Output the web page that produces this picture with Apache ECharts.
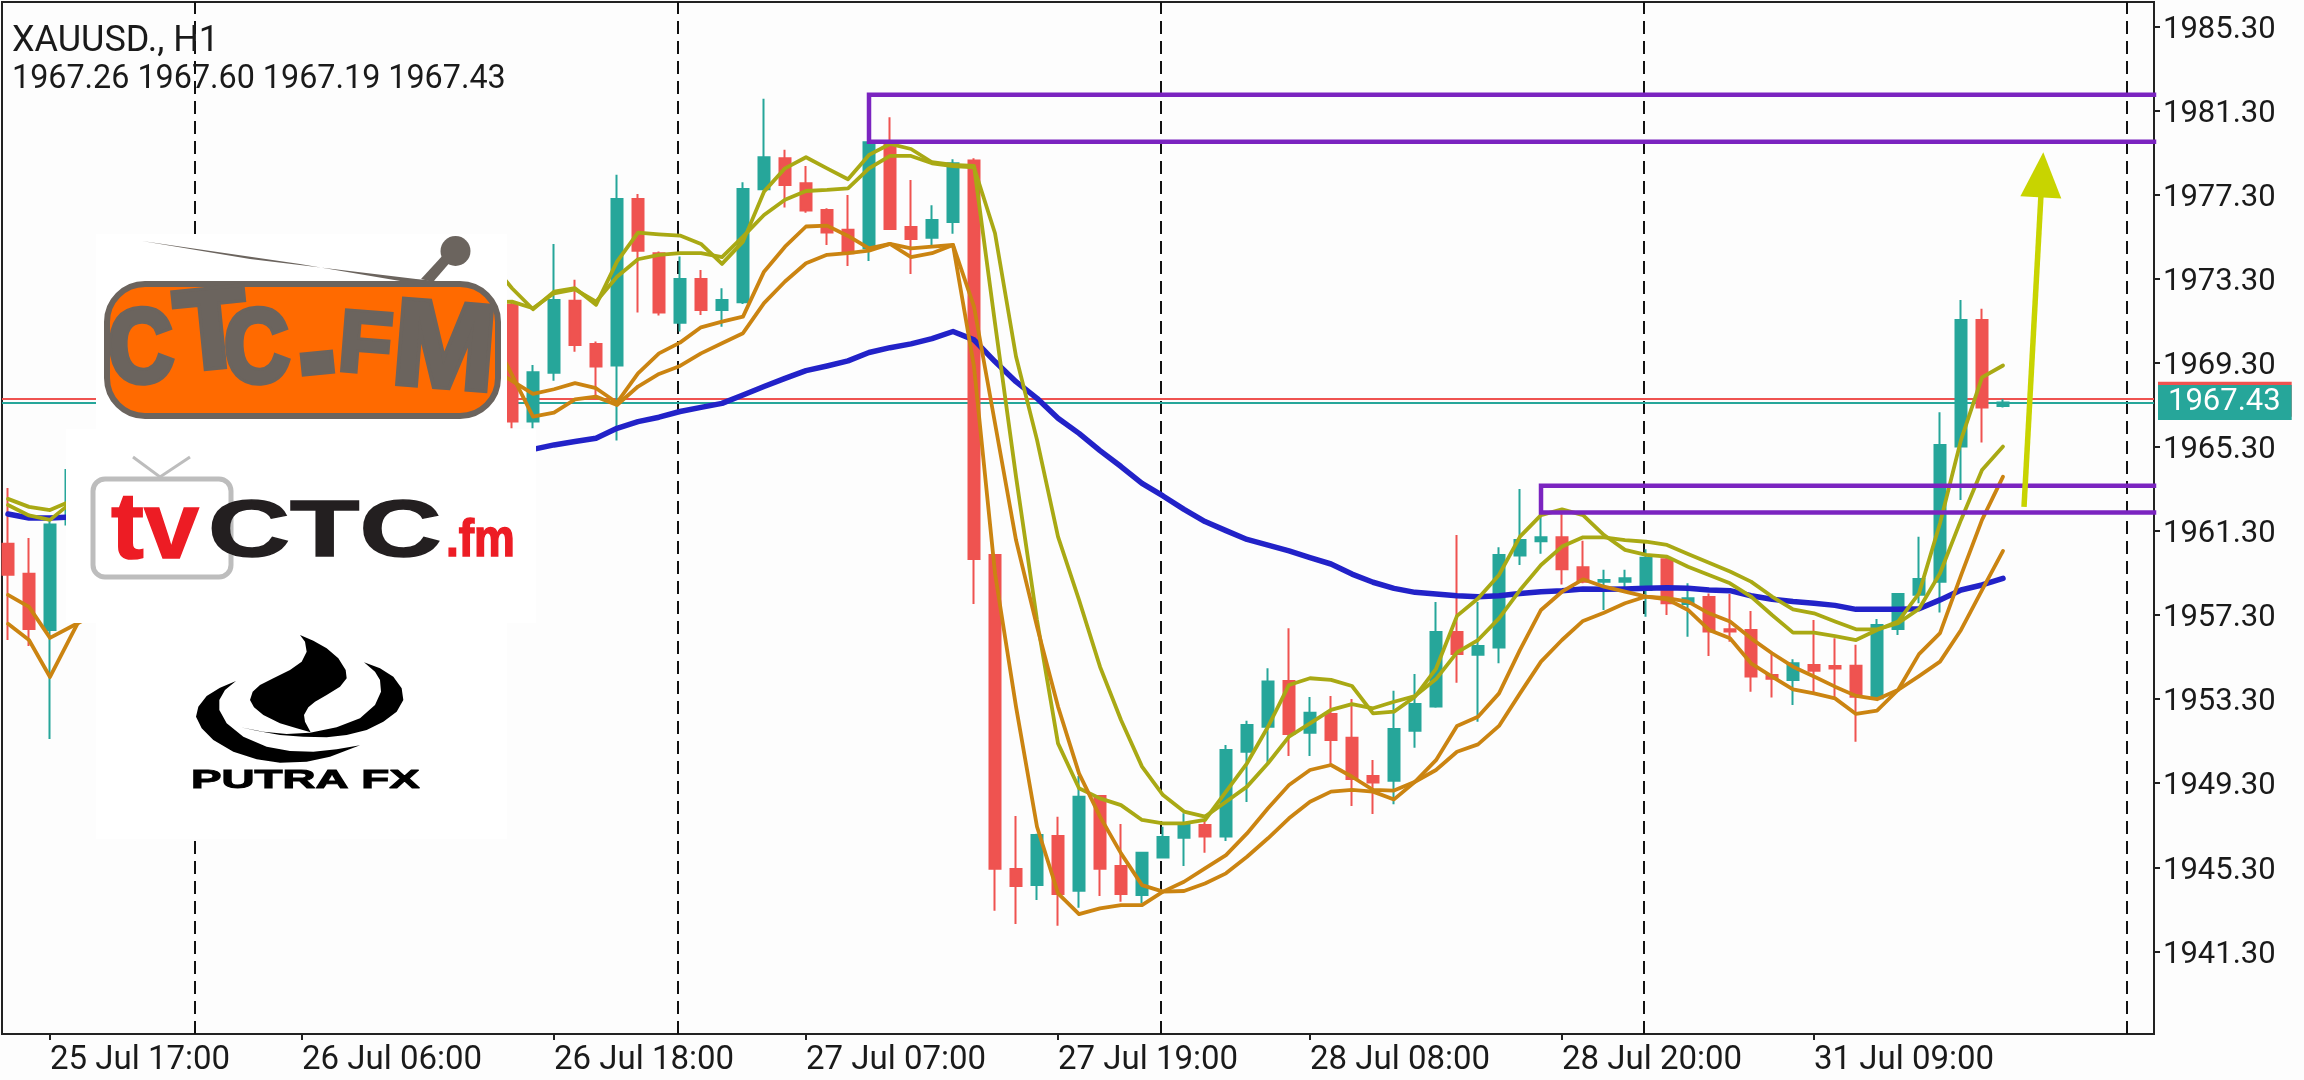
<!DOCTYPE html>
<html>
<head>
<meta charset="utf-8">
<style>html,body{margin:0;padding:0;background:#fdfdfd}#c{width:2304px;height:1080px}</style>
<script src="https://cdn.jsdelivr.net/npm/echarts@6/dist/echarts.min.js"></script>
</head>
<body>
<div id="c"></div>
<script>
// Candles as [open, close, low, high]. Bars 4..23 sit behind the logos and are not readable.
const leftCandles = [
 [1960.70,1959.23,1956.12,1963.36],[1959.27,1956.65,1955.84,1960.98],[1956.60,1961.62,1951.41,1961.80],[1961.62,1964.22,1961.60,1964.30]];
const rightCandles = [
 [1972.08,1966.52,1966.20,1972.20],[1966.52,1968.87,1966.20,1969.22],[1968.85,1972.31,1968.47,1974.98],[1972.27,1970.17,1969.85,1973.27],
 [1970.22,1969.14,1967.71,1970.33],[1969.19,1977.12,1965.62,1978.27],[1977.12,1974.66,1971.71,1977.36],[1974.54,1971.71,1971.57,1974.62],
 [1971.23,1973.31,1970.81,1974.38],[1973.31,1971.84,1971.60,1973.74],[1971.84,1972.31,1971.04,1972.87],[1972.20,1977.60,1972.12,1977.92],
 [1977.58,1979.11,1977.55,1981.89],[1979.06,1977.79,1976.71,1979.46],[1977.87,1976.57,1976.47,1978.69],[1976.60,1975.52,1974.93,1976.68],
 [1975.65,1974.54,1973.93,1977.31],[1974.77,1979.82,1974.17,1979.85],[1979.74,1975.69,1975.64,1981.01],[1975.79,1975.22,1973.55,1978.03],
 [1975.28,1976.12,1974.93,1976.82],[1976.03,1978.82,1975.46,1979.01],[1978.95,1959.98,1957.84,1979.06],[1960.17,1945.23,1943.23,1960.20],
 [1945.22,1944.41,1942.60,1947.74],[1944.45,1946.84,1943.74,1946.90],[1946.79,1944.03,1942.52,1947.71],[1944.18,1948.66,1943.37,1949.64],
 [1948.69,1945.23,1943.93,1948.74],[1945.36,1944.03,1943.66,1947.36],[1943.98,1945.99,1943.58,1946.04],[1945.76,1946.74,1945.72,1947.23],
 [1946.71,1947.31,1945.36,1947.87],[1947.31,1946.76,1945.99,1947.55],[1946.76,1950.88,1946.55,1951.12],[1950.80,1952.07,1948.41,1952.28],
 [1951.99,1954.14,1950.25,1954.77],[1954.17,1951.64,1950.60,1956.68],[1951.71,1952.66,1950.60,1953.41],[1952.60,1951.36,1950.17,1953.45],
 [1951.47,1949.50,1948.22,1953.31],[1949.64,1949.33,1947.84,1950.41],[1949.42,1951.88,1948.30,1953.71],[1951.80,1953.07,1950.99,1954.50],
 [1952.95,1956.50,1952.90,1957.93],[1956.50,1955.45,1954.09,1961.12],[1955.42,1955.84,1952.23,1957.93],[1955.76,1960.17,1955.01,1960.54],
 [1960.14,1960.88,1959.69,1963.31],[1960.82,1961.01,1960.23,1962.15],[1961.01,1959.49,1958.76,1962.34],[1959.58,1958.90,1958.82,1960.85],
 [1958.90,1958.98,1957.55,1959.46],[1958.90,1959.06,1958.50,1959.46],[1958.50,1960.04,1957.23,1960.44],[1959.96,1957.87,1957.31,1960.09],
 [1957.84,1958.11,1956.28,1958.82],[1958.17,1956.52,1955.36,1958.34],[1956.63,1956.52,1956.04,1958.31],[1956.60,1954.38,1953.66,1957.50],
 [1954.46,1954.28,1953.38,1955.49],[1954.22,1955.01,1953.03,1955.20],[1954.93,1954.66,1953.58,1957.07],[1954.88,1954.76,1953.34,1956.20],
 [1954.89,1953.42,1951.28,1955.89],[1953.35,1956.84,1953.30,1957.12],[1956.65,1958.31,1956.36,1958.35],[1958.27,1959.03,1957.87,1961.04],
 [1958.90,1965.41,1957.43,1966.96],[1965.33,1971.36,1962.79,1972.31],[1971.36,1967.19,1965.52,1971.89],[1967.26,1967.43,1967.19,1967.60]];
const rightCandlesStart = 24;

// Moving averages. Left part starts at bar 0, right part at the given bar.
const oliveFastLeft = [1962.84,1962.46,1962.31,1962.74];
const oliveFast = [1974.08,1972.87,1971.87,1972.71,1972.87,1972.08,1974.14,1975.52,1975.44,1975.38,1974.98,1974.03,1975.09,1977.47,1978.58,1979.11,1978.58,1978.06,1979.22,1979.74,1979.50,1978.87,1978.74,1978.69,1971.20,1963.90,1957.07,1951.20,1949.06,1948.58,1948.26,1947.55,1947.39,1947.39,1947.55,1948.90,1950.25,1951.99,1953.98,1954.30,1954.22,1953.93,1952.63,1952.71,1953.42,1954.75,1957.27,1958.10,1959.22,1961.04,1962.07,1962.34,1962.07,1961.12,1960.41,1960.17,1960.09,1959.61,1959.22,1958.82,1958.19,1957.31,1956.47,1956.47,1956.31,1956.12,1956.60,1957.00,1958.34,1961.68,1965.65,1968.63,1969.19];
const oliveSlowLeft = [1962.55,1962.05,1961.84,1962.65];
const oliveSlow = [1972.20,1972.23,1971.92,1972.63,1972.82,1972.23,1973.42,1974.25,1974.46,1974.54,1974.54,1974.35,1975.33,1976.36,1977.08,1977.50,1977.55,1977.63,1978.58,1979.17,1979.17,1978.82,1978.69,1978.63,1975.49,1969.62,1965.65,1961.04,1958.03,1954.85,1952.31,1950.09,1948.74,1947.95,1947.71,1948.42,1949.14,1950.25,1951.52,1952.15,1952.79,1953.07,1952.87,1953.18,1953.45,1954.26,1955.53,1956.12,1957.15,1958.50,1959.69,1960.57,1961.01,1961.01,1960.88,1960.80,1960.65,1960.22,1959.80,1959.38,1958.90,1958.19,1957.58,1957.39,1957.00,1956.63,1956.63,1956.92,1957.60,1959.30,1961.84,1964.22,1965.33];
const orangeFastLeft = [1958.27,1957.70,1956.22,1956.75,1957.27];
const orangeFast = [1969.08,1968.46,1967.84,1968.06,1968.35,1968.11,1967.42,1968.82,1969.77,1970.28,1971.01,1971.28,1971.52,1973.66,1974.85,1975.81,1975.85,1975.36,1974.77,1974.98,1974.35,1974.54,1974.93,1969.14,1959.30,1952.95,1947.23,1944.06,1943.07,1943.34,1943.50,1943.50,1944.14,1944.61,1945.25,1945.88,1946.91,1948.11,1949.22,1949.93,1950.17,1949.61,1948.98,1948.95,1949.37,1950.40,1952.03,1952.47,1953.58,1955.65,1957.55,1958.42,1959.01,1958.66,1958.42,1958.19,1958.11,1957.95,1957.39,1957.00,1956.20,1955.49,1954.85,1954.38,1953.90,1953.46,1953.30,1953.74,1955.45,1956.45,1959.20,1961.84,1963.90];
const orangeSlowLeft = [1956.89,1956.12,1954.36,1956.31,1958.22];
const orangeSlow = [1970.69,1968.74,1966.76,1966.95,1967.58,1967.71,1967.31,1968.19,1968.79,1969.17,1969.77,1970.25,1970.73,1972.16,1973.19,1974.06,1974.46,1974.54,1974.66,1974.98,1974.77,1974.85,1974.93,1972.00,1966.44,1960.88,1956.76,1952.95,1949.77,1947.71,1945.96,1944.45,1944.14,1944.17,1944.53,1945.01,1945.80,1946.68,1947.63,1948.42,1948.90,1948.98,1948.90,1948.53,1949.37,1949.93,1950.80,1951.15,1952.03,1953.58,1955.09,1956.12,1957.03,1957.42,1957.87,1958.19,1958.06,1957.55,1956.60,1956.20,1955.01,1954.38,1953.77,1953.58,1953.34,1952.60,1952.76,1953.74,1954.40,1955.09,1956.60,1958.50,1960.36];
const blueLeft = [1962.12,1961.93,1961.93,1961.98];
const blue = [1965.20,1965.41,1965.57,1965.73,1966.20,1966.52,1966.73,1967.00,1967.20,1967.39,1967.79,1968.19,1968.58,1968.95,1969.17,1969.41,1969.81,1970.04,1970.22,1970.47,1970.81,1970.41,1969.38,1968.42,1967.63,1966.68,1965.96,1965.14,1964.38,1963.58,1962.98,1962.34,1961.76,1961.33,1960.91,1960.64,1960.36,1960.04,1959.74,1959.26,1958.87,1958.58,1958.39,1958.31,1958.23,1958.18,1958.23,1958.34,1958.42,1958.47,1958.55,1958.54,1958.55,1958.58,1958.61,1958.58,1958.50,1958.47,1958.23,1958.06,1957.95,1957.87,1957.77,1957.58,1957.58,1957.58,1957.61,1958.03,1958.50,1958.74,1959.06];

const oliveStart = 23, orangeStart = 23, blueStart = 25;

const xTickBars = [2,14,26,38,50,62,74,86];
const xTickLabels = ['25 Jul 17:00','26 Jul 06:00','26 Jul 18:00','27 Jul 07:00','27 Jul 19:00','28 Jul 08:00','28 Jul 20:00','31 Jul 09:00'];
const yTicks = [1941.30,1945.30,1949.30,1953.30,1957.30,1961.30,1965.30,1969.30,1973.30,1977.30,1981.30,1985.30];
const separators = [8.9,31.9,54.9,77.9,100.9];
const bidPrice = 1967.43, askPrice = 1967.59;
const zones = [{from:41,top:1982.08,bottom:1979.85},{from:73,top:1963.46,bottom:1962.19}];
const arrowFrom = [96.0,1962.46], arrowTo = [96.86,1978.27];
const infoLine = '1967.26 1967.60 1967.19 1967.43';

const xMin = -0.2857, xMax = 102.19;
const FONT = 'Roboto';
const TEAL = '#26a69a', RED = '#ef5350';

const candleRows = [];
leftCandles.forEach((c,i)=>candleRows.push([i].concat(c)));
rightCandles.forEach((c,i)=>candleRows.push([rightCandlesStart+i].concat(c)));
function pts(left,start,right){
  const out = left.map((v,i)=>[i,v]);
  for(let i=left.length;i<start;i++) out.push([i,null]);
  right.forEach((v,i)=>out.push([start+i,v]));
  return out;
}
function lineS(name,data,color,width){
  return {name,type:'line',data,showSymbol:false,symbol:'none',z:3,silent:true,
    connectNulls:false,lineStyle:{color,width,join:'round',cap:'round'}};
}

// ---- logos, painted on top of the chart ----
const GREY='#6b645e', ORANGE='#ff6a00', LOGO_Z=100;
const CTC_TEXT='bold 100px "Liberation Sans"';
function letter(t,x,y,sx,sy,rot,font){
  return {type:'text',z:LOGO_Z,x,y,scaleX:sx,scaleY:sy,rotation:rot||0,
    style:{text:t,x:0,y:0,font:font||CTC_TEXT,fill:GREY,stroke:GREY,lineWidth:6,textAlign:'center',textVerticalAlign:'middle'}};
}
function word(t,x,y,font,fill,sx,sy){
  return {type:'text',z:LOGO_Z,x,y,scaleX:sx||1,scaleY:sy||1,
    style:{text:t,x:0,y:0,font,fill,stroke:fill,lineWidth:1.5,textAlign:'left',textVerticalAlign:'middle'}};
}
const flame = [[360,45],[400,62],[440,85],[475,115],[497,150],[500,175],[480,200],[440,225],[405,245],[385,262],[372,285],[375,305],[392,337],[350,325],[300,310],[250,285],[222,262],[210,240],[218,215],[240,195],[280,175],[330,150],[365,125],[380,95],[375,65]];
const swooshR = [[552,127],[600,145],[640,170],[665,205],[670,240],[650,275],[610,305],[560,330],[500,345],[440,352],[370,350],[300,345],[230,332],[182,322],[250,335],[320,342],[390,338],[470,322],[540,295],[585,255],[603,215],[600,180],[585,155]];
const swooshL = [[168,183],[120,203],[80,228],[55,260],[48,290],[65,325],[100,360],[160,395],[230,418],[300,428],[380,425],[450,410],[540,376],[470,388],[400,395],[330,393],[260,380],[190,350],[140,310],[118,270],[118,240],[135,210]];
const logoElements = [
  {type:'rect',z:LOGO_Z,shape:{x:96,y:234,width:411,height:196},style:{fill:'#fff'}},
  {type:'rect',z:LOGO_Z,shape:{x:66,y:429,width:470,height:194},style:{fill:'#fff'}},
  {type:'rect',z:LOGO_Z,shape:{x:96,y:622,width:411,height:217},style:{fill:'#fff'}},
  // CTC.FM radio
  {type:'polygon',z:LOGO_Z,shape:{points:[[142,241],[250,259],[416,279],[456,283],[412,283],[300,264]]},style:{fill:GREY}},
  {type:'polygon',z:LOGO_Z,shape:{points:[[421,279],[444,254],[452,260],[433,282]]},style:{fill:GREY}},
  {type:'circle',z:LOGO_Z,shape:{cx:455.5,cy:251,r:15},style:{fill:GREY}},
  {type:'rect',z:LOGO_Z,shape:{x:107,y:284,width:391,height:132,r:38},style:{fill:ORANGE,stroke:GREY,lineWidth:6}},
  letter('C',141,353,0.9,1.04,0.05),
  letter('T',212,336,1.15,1.12,0.1),
  letter('C',257,353,0.9,1.04,0.05),
  letter('.',315,338,1.3,0.9,0.1,'bold 140px "Liberation Sans"'),
  letter('F',365,348,0.86,0.86,-0.08),
  letter('M',444,353,1.22,1.2,-0.08),
  // tvCTC.fm
  {type:'polyline',z:LOGO_Z,shape:{points:[[133,457],[160,477],[190,457]]},style:{stroke:'#bdbdbd',lineWidth:3,fill:null}},
  {type:'rect',z:LOGO_Z,shape:{x:93,y:479,width:138,height:98,r:12},style:{fill:'none',stroke:'#bdbdbd',lineWidth:5}},
  word('tv',111,532,'bold 95px "Liberation Sans"','#ed1c24',1.04,1),
  word('CTC',208,534,'bold 80px "Liberation Sans"','#231f20',1.42,1),
  word('.fm',446,542,'bold 51px "Liberation Sans"','#ed1c24',0.9,1),
  // Putra FX
  {type:'group',x:180,y:620,scaleX:1/3,scaleY:1/3,children:[
    {type:'polygon',z:LOGO_Z,shape:{points:flame},style:{fill:'#000'}},
    {type:'polygon',z:LOGO_Z,shape:{points:swooshR},style:{fill:'#000'}},
    {type:'polygon',z:LOGO_Z,shape:{points:swooshL},style:{fill:'#000'}}
  ]},
  {type:'text',z:LOGO_Z,x:191,y:781,scaleX:1.76,scaleY:1,style:{text:'PUTRA FX',x:0,y:0,font:'bold 26px "Liberation Sans"',fill:'#000',stroke:'#000',lineWidth:1,textAlign:'left',textVerticalAlign:'middle'}}
];

const option = {
  animation:false,
  backgroundColor:'#fdfdfd',
  title:[
    {text:'XAUUSD., H1',left:7,top:19,textStyle:{fontFamily:FONT,fontWeight:400,fontSize:36,color:'#1a1a1a'}},
    {text:infoLine,left:7,top:59,textStyle:{fontFamily:FONT,fontWeight:400,fontSize:32.3,color:'#1a1a1a'}}
  ],
  grid:{left:2,right:150,top:2,bottom:46,show:true,borderColor:'#222',borderWidth:2,backgroundColor:'transparent'},
  xAxis:{type:'value',min:xMin,max:xMax,
    axisLine:{show:true,onZero:false,lineStyle:{color:'#222',width:2}},
    splitLine:{show:false},
    axisTick:{show:true,length:6,customValues:xTickBars,lineStyle:{color:'#222',width:2}},
    axisLabel:{customValues:xTickBars,margin:10,align:'left',fontFamily:FONT,fontSize:33,color:'#1a1a1a',
      formatter:v=>xTickLabels[xTickBars.indexOf(v)]||''}
  },
  yAxis:{type:'value',position:'right',min:1937.36,max:1986.50,
    axisLine:{show:true,onZero:false,lineStyle:{color:'#222',width:2}},
    splitLine:{show:false},
    axisTick:{show:true,length:6,customValues:yTicks,lineStyle:{color:'#222',width:2}},
    axisLabel:{customValues:yTicks,margin:9,verticalAlign:'top',lineHeight:7,fontFamily:FONT,fontSize:31,color:'#1a1a1a',
      formatter:v=>v.toFixed(2)}
  },
  graphic:{elements:logoElements},
  series:[
    {name:'Separators',type:'line',data:[],silent:true,z:1,
      markLine:{silent:true,z:1,symbol:'none',label:{show:false},animation:false,
        lineStyle:{color:'#111',width:2,type:[13,7]},
        data:separators.map(v=>({xAxis:v}))}},
    {name:'Prices',type:'line',data:[],silent:true,z:1,
      markLine:{silent:true,z:1,symbol:'none',animation:false,
        data:[
          {yAxis:askPrice,lineStyle:{color:RED,width:2,type:'solid'},
            label:{show:true,position:'end',distance:4,formatter:askPrice.toFixed(2),backgroundColor:RED,color:RED,
              fontFamily:FONT,fontSize:31,lineHeight:23,padding:[12,11,0,10]}},
          {yAxis:bidPrice,lineStyle:{color:TEAL,width:2,type:'solid'},
            label:{show:true,position:'end',distance:4,formatter:bidPrice.toFixed(2),backgroundColor:TEAL,color:'#fff',
              fontFamily:FONT,fontSize:31,lineHeight:23,padding:[12,11,0,10]}}
        ]}},
    {name:'XAUUSD',type:'candlestick',data:candleRows,encode:{x:0,y:[1,2,3,4]},barWidth:12,z:2,silent:true,clip:true,
      itemStyle:{color:TEAL,color0:RED,borderColor:TEAL,borderColor0:RED,borderColorDoji:TEAL,borderWidth:2}},
    lineS('Blue MA',pts(blueLeft,blueStart,blue),'#2222c8',5.5),
    lineS('Olive fast',pts(oliveFastLeft,oliveStart,oliveFast),'#a9a914',3.8),
    lineS('Olive slow',pts(oliveSlowLeft,oliveStart,oliveSlow),'#a9a914',3.8),
    lineS('Orange fast',pts(orangeFastLeft,orangeStart,orangeFast),'#cb8411',3.8),
    lineS('Orange slow',pts(orangeSlowLeft,orangeStart,orangeSlow),'#cb8411',3.8),
    ...zones.map((d,i)=>({name:'Zone '+i,type:'line',showSymbol:false,symbol:'none',silent:true,z:4,
      lineStyle:{color:'#7b24c0',width:4.5,join:'miter',cap:'square'},
      data:[[xMax,d.top],[d.from,d.top],[d.from,d.bottom],[xMax,d.bottom]]})),
    {name:'Arrow',type:'line',data:[],silent:true,z:5,
      markLine:{silent:true,z:5,animation:false,symbol:['none','triangle'],symbolSize:[41,45],label:{show:false},
        lineStyle:{color:'#c8d400',width:5.5,type:'solid'},itemStyle:{color:'#c8d400'},
        data:[[{coord:arrowFrom},{coord:arrowTo}]]}}
  ]
};
echarts.init(document.getElementById('c')).setOption(option);
</script>
</body>
</html>
